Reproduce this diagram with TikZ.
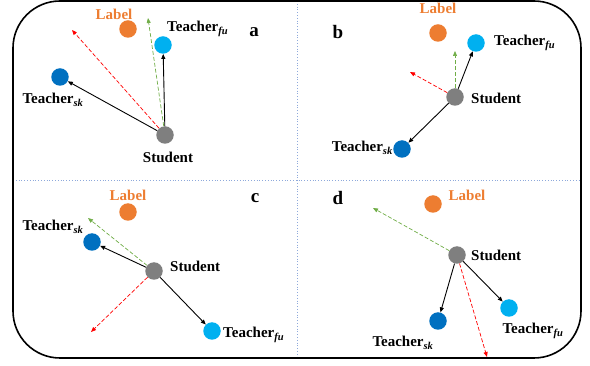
\documentclass[tikz,border=0pt]{standalone}
\usepackage{fontspec}
\setmainfont{Liberation Serif}
\usetikzlibrary{arrows.meta}
\definecolor{lblorange}{HTML}{ED7D31}
\definecolor{fublue}{HTML}{00B0F0}
\definecolor{skblue}{HTML}{0070C0}
\definecolor{stgray}{HTML}{7F7F7F}
\definecolor{dashred}{HTML}{FF0000}
\definecolor{dashgreen}{HTML}{70AD47}
\definecolor{divider}{HTML}{8EA9DB}
\tikzset{
  dot/.style={circle,minimum size=17.5pt,inner sep=0pt,draw=none},
  lbldot/.style={dot,fill=lblorange},
  fudot/.style={dot,fill=fublue},
  skdot/.style={dot,fill=skblue},
  stdot/.style={dot,fill=stgray},
  txt/.style={font=\fontsize{15}{16}\selectfont\bfseries,inner sep=0pt},
  lbltxt/.style={txt,text=lblorange},
  paneltxt/.style={font=\fontsize{19}{20}\selectfont\bfseries,inner sep=0pt},
  arr/.style={-{Triangle[length=5pt,width=4pt]},line width=0.9pt,black},
  rdash/.style={-{Triangle[length=5pt,width=4pt]},dash pattern=on 4pt off 2pt,line width=0.7pt,dashred},
  gdash/.style={-{Triangle[length=5pt,width=4pt]},dash pattern=on 4pt off 2pt,line width=0.7pt,dashgreen},
}
\newcommand{\tfu}{Teacher\textsubscript{\itshape fu}}
\newcommand{\tsk}{Teacher\textsubscript{\itshape sk}}
\begin{document}
\begin{tikzpicture}[x=1pt,y=-1pt]
\useasboundingbox (0,0) rectangle (590,366);
% dividers
\draw[divider,dotted,line width=0.8pt] (297,1) -- (297,358);
\draw[divider,dotted,line width=0.8pt] (13,180) -- (581,180);
% frame
\draw[line width=1.6pt,rounded corners=47pt] (13,1) rectangle (581,358);

% ---------- panel a ----------
\node[paneltxt] (pa) at (254,32) {a};
\node[lbltxt] (la) at (114,14) {Label};
\node[lbldot] (lda) at (128,29) {};
\node[fudot] (fua) at (163,45) {};
\node[txt,anchor=west] (fuat) at (167,29) {\tfu};
\node[skdot] (ska) at (60,77) {};
\node[txt] (skat) at (53,100) {\tsk};
\node[stdot] (sta) at (165,135) {};
\node[txt] (stat) at (168,157) {Student};
\coordinate (ra) at (72,30);
\coordinate (ga) at (148,18);
\draw[rdash] (sta) -- (ra);
\draw[gdash] (sta) -- (ga);
\draw[arr] (sta) -- (fua);
\draw[arr] (sta) -- (ska);

% ---------- panel b ----------
\node[paneltxt] (pb) at (338,32) {b};
\node[lbltxt] (lb) at (438,8) {Label};
\node[lbldot] (ldb) at (438,33) {};
\node[fudot] (fub) at (476,43) {};
\node[txt,anchor=west] (fubt) at (494,43) {\tfu};
\node[stdot] (stb) at (455,97) {};
\node[txt,anchor=west] (stbt) at (471,98) {Student};
\node[skdot] (skb) at (402,149) {};
\node[txt,anchor=east] (skbt) at (393,148) {\tsk};
\coordinate (rb) at (410,72);
\coordinate (gb) at (455,51);
\draw[rdash] (stb) -- (rb);
\draw[gdash] (stb) -- (gb);
\draw[arr] (stb) -- (fub);
\draw[arr] (stb) -- (skb);

% ---------- panel c ----------
\node[paneltxt] (pc) at (255,198) {c};
\node[lbltxt] (lc) at (128,195) {Label};
\node[lbldot] (ldc) at (128,212) {};
\node[skdot] (skc) at (92,242) {};
\node[txt] (skct) at (53,227) {\tsk};
\node[stdot] (stc) at (154,271) {};
\node[txt,anchor=west] (stct) at (170,266) {Student};
\node[fudot] (fuc) at (212,331) {};
\node[txt,anchor=west] (fuct) at (223,335) {\tfu};
\coordinate (rc) at (91,332);
\coordinate (gc) at (88,218);
\draw[rdash] (stc) -- (rc);
\draw[gdash] (stc) -- (gc);
\draw[arr] (stc) -- (skc);
\draw[arr] (stc) -- (fuc);

% ---------- panel d ----------
\node[paneltxt] (pd) at (338,198) {d};
\node[lbldot] (ldd) at (433,204) {};
\node[lbltxt] (ld) at (467,195) {Label};
\node[stdot] (std) at (457,255) {};
\node[txt,anchor=west] (stdt) at (471,255) {Student};
\node[skdot] (skd) at (438,321) {};
\node[txt] (skdt) at (403,343) {\tsk};
\node[fudot] (fud) at (509,308) {};
\node[txt] (fudt) at (533,331) {\tfu};
\coordinate (rd) at (487,357);
\coordinate (gd) at (373,208);
\draw[gdash] (std) -- (gd);
\draw[rdash] (std) -- (rd);
\draw[arr] (std) -- (skd);
\draw[arr] (std) -- (fud);
\end{tikzpicture}
\end{document}
